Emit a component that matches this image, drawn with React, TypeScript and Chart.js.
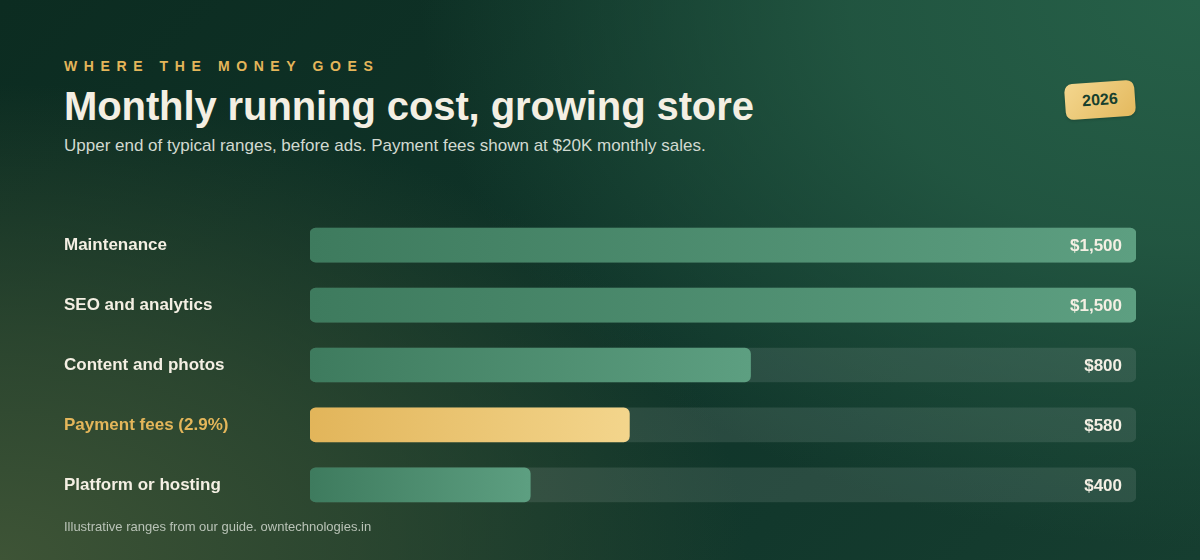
import React, { useEffect, useRef } from 'react';
import { Chart, registerables } from 'chart.js';

Chart.register(...registerables);

const categories = ['Maintenance', 'SEO and analytics', 'Content and photos', 'Payment fees (2.9%)', 'Platform or hosting'];
const monthlyCost = [1500, 1500, 800, 580, 400];
const trackMax = [1500, 1500, 1500, 1500, 1500];
const highlightIndex = 3;

const FONT = '"Liberation Sans", Arial, Helvetica, sans-serif';
const CREAM = '#f4efe3';
const GOLD = '#e4b65a';

const fmt = (v: number) => '$' + v.toLocaleString('en-US');

const valueLabels = {
  id: 'valueLabels',
  afterDatasetsDraw(chart: any) {
    const { ctx, chartArea } = chart;
    const meta = chart.getDatasetMeta(1);
    ctx.save();
    ctx.font = `bold 17px ${FONT}`;
    ctx.fillStyle = CREAM;
    ctx.textAlign = 'right';
    ctx.textBaseline = 'middle';
    meta.data.forEach((bar: any, i: number) => {
      ctx.fillText(fmt(monthlyCost[i]), chartArea.right - 14, bar.y + 1);
    });
    ctx.restore();
  },
};

function barFill(ctx: any) {
  const chart = ctx.chart;
  const gold = ctx.dataIndex === highlightIndex;
  if (!chart.chartArea || !chart.scales.x) return gold ? GOLD : '#4a8a6b';
  const sx = chart.scales.x;
  const x0 = sx.getPixelForValue(0);
  const x1 = sx.getPixelForValue(ctx.raw ?? 0);
  const g = chart.ctx.createLinearGradient(x0, 0, Math.max(x1, x0 + 1), 0);
  if (gold) {
    g.addColorStop(0, '#e2b55a');
    g.addColorStop(1, '#f3d58c');
  } else {
    g.addColorStop(0, '#3e7b5e');
    g.addColorStop(1, '#5d9f81');
  }
  return g;
}

function CostChart() {
  const canvasRef = useRef<HTMLCanvasElement>(null);
  const chartRef = useRef<Chart | null>(null);

  useEffect(() => {
    if (!canvasRef.current) return;
    chartRef.current = new Chart(canvasRef.current, {
      type: 'bar',
      data: {
        labels: categories,
        datasets: [
          {
            data: trackMax,
            backgroundColor: 'rgba(255,255,255,0.1)',
            borderRadius: 6,
            borderSkipped: false,
            barThickness: 34,
            grouped: false,
            order: 2,
          },
          {
            data: monthlyCost,
            backgroundColor: barFill,
            borderRadius: 6,
            borderSkipped: false,
            barThickness: 34,
            grouped: false,
            order: 1,
          },
        ],
      },
      options: {
        indexAxis: 'y',
        animation: false,
        responsive: true,
        maintainAspectRatio: false,
        layout: { padding: 0 },
        plugins: {
          legend: { display: false },
          tooltip: { enabled: false },
        },
        scales: {
          x: {
            display: false,
            min: 0,
            max: 1500,
          },
          y: {
            grid: { display: false },
            border: { display: false },
            afterFit: (scale: any) => {
              scale.width = 246;
            },
            ticks: {
              crossAlign: 'far',
              padding: 0,
              font: { family: FONT, size: 17, weight: 'bold' },
              color: (c: any) => (c.index === highlightIndex ? GOLD : CREAM),
            },
          },
        },
      },
      plugins: [valueLabels],
    } as any);

    return () => {
      if (chartRef.current) chartRef.current.destroy();
    };
  }, []);

  return <canvas ref={canvasRef} />;
}

export default function App() {
  return (
    <div
      style={{
        position: 'fixed',
        left: 0,
        top: 0,
        width: 1200,
        height: 560,
        overflow: 'hidden',
        fontFamily: FONT,
        background:
          'radial-gradient(ellipse 1000px 700px at 100% 0%, rgba(38,96,72,1) 0%, rgba(36,90,68,0.85) 35%, rgba(36,90,68,0) 78%),' +
          'radial-gradient(ellipse 880px 560px at 0% 100%, rgba(62,84,54,1) 0%, rgba(52,76,50,0.75) 40%, rgba(52,76,50,0) 85%),' +
          'linear-gradient(135deg, #0c2c21 0%, #10352a 60%, #163e30 100%)',
      }}
    >
      <div
        style={{
          position: 'absolute', left: 64, top: 59, fontSize: 14, lineHeight: '14px',
          fontWeight: 700, letterSpacing: 6.6, color: GOLD, whiteSpace: 'nowrap',
        }}
      >
        WHERE THE MONEY GOES
      </div>
      <div
        style={{
          position: 'absolute', left: 64, top: 86, fontSize: 40, lineHeight: '40px',
          fontWeight: 700, color: CREAM, whiteSpace: 'nowrap', letterSpacing: -0.1,
        }}
      >
        Monthly running cost, growing store
      </div>
      <div
        style={{
          position: 'absolute', left: 64, top: 137, fontSize: 17, lineHeight: '17px',
          color: '#d2dad1', whiteSpace: 'nowrap',
        }}
      >
        Upper end of typical ranges, before ads. Payment fees shown at $20K monthly sales.
      </div>
      <div
        style={{
          position: 'absolute', left: 1065, top: 82, width: 70, height: 36,
          borderRadius: 8, transform: 'rotate(-4deg)',
          background: 'linear-gradient(135deg, #f3d68e 0%, #e4b95e 100%)',
          boxShadow: '0 1px 3px rgba(0,0,0,0.2)',
          display: 'flex', alignItems: 'center', justifyContent: 'center',
          fontSize: 16, fontWeight: 700, color: '#17402e',
        }}
      >
        2026
      </div>
      <div style={{ position: 'absolute', left: 64, top: 205, width: 1072, height: 320 }}>
        <CostChart />
      </div>
      <div
        style={{
          position: 'absolute', left: 64, top: 520, fontSize: 13, lineHeight: '13px',
          color: '#b9c3b7', whiteSpace: 'nowrap',
        }}
      >
        Illustrative ranges from our guide. owntechnologies.in
      </div>
    </div>
  );
}
